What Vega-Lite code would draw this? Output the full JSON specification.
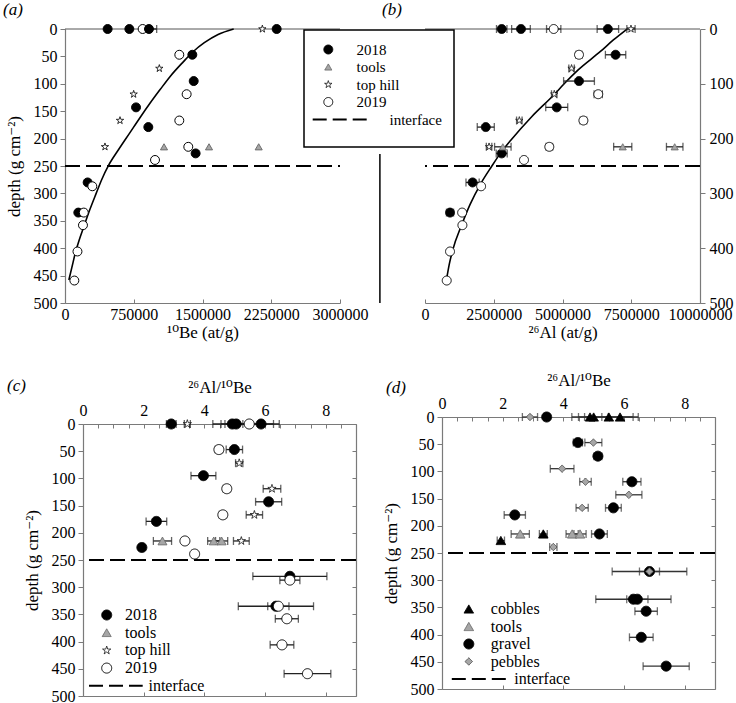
{
  "$schema": "https://vega.github.io/schema/vega-lite/v6.json",
  "background": "white",
  "padding": {"left": 3, "top": 1, "right": 3, "bottom": 0},
  "config": {
    "font": "Liberation Serif, DejaVu Serif",
    "view": {"stroke": null},
    "axis": {"labelFont": "Liberation Serif, DejaVu Serif", "titleFont": "Liberation Serif, DejaVu Serif", "labelFontSize": 16, "titleFontSize": 17, "titleFontWeight": "normal", "labelColor": "black", "titleColor": "black", "domainColor": "#7a7a7a", "tickColor": "#7a7a7a", "grid": false, "tickSize": 5, "labelPadding": 3, "domainWidth": 1.2},
    "legend": {"labelFont": "Liberation Serif, DejaVu Serif, DejaVu Sans", "titleFont": "Liberation Serif, DejaVu Serif", "labelColor": "black", "strokeWidth": 1.5},
    "title": {"font": "Liberation Serif, DejaVu Serif", "fontSize": 17, "fontWeight": "normal", "fontStyle": "italic", "color": "black", "anchor": "start", "frame": "group"}
  },
  "datasets": {
    "curveA": [
      {"depth": 0, "v": 1840000}, {"depth": 10, "v": 1670000}, {"depth": 25, "v": 1520000}, {"depth": 41, "v": 1400000}, {"depth": 60, "v": 1290000}, {"depth": 87, "v": 1145000}, {"depth": 110, "v": 1040000}, {"depth": 136, "v": 925000}, {"depth": 160, "v": 825000}, {"depth": 190, "v": 705000}, {"depth": 220, "v": 585000}, {"depth": 249, "v": 475000}, {"depth": 275, "v": 400000}, {"depth": 300, "v": 340000}, {"depth": 330, "v": 270000}, {"depth": 361, "v": 205000}, {"depth": 385, "v": 155000}, {"depth": 409, "v": 112000}, {"depth": 435, "v": 75000}, {"depth": 458, "v": 42000}
    ],
    "curveB": [
      {"depth": 0, "v": 7350000}, {"depth": 20, "v": 6850000}, {"depth": 41, "v": 6380000}, {"depth": 75, "v": 5560000}, {"depth": 100, "v": 5060000}, {"depth": 120, "v": 4690000}, {"depth": 160, "v": 3880000}, {"depth": 203, "v": 3120000}, {"depth": 227, "v": 2740000}, {"depth": 251, "v": 2420000}, {"depth": 282, "v": 2030000}, {"depth": 320, "v": 1640000}, {"depth": 358, "v": 1330000}, {"depth": 403, "v": 1010000}, {"depth": 430, "v": 880000}, {"depth": 458, "v": 780000}
    ],
    "a": [
      {"series": "2018", "depth": 0, "v": 465000, "err": 0},
      {"series": "2018", "depth": 0, "v": 702000, "err": 0},
      {"series": "2018", "depth": 0, "v": 2309000, "err": 0},
      {"series": "2018", "depth": 47, "v": 1389000, "err": 0},
      {"series": "2018", "depth": 95, "v": 1404000, "err": 0},
      {"series": "2018", "depth": 143, "v": 775000, "err": 0},
      {"series": "2018", "depth": 179, "v": 909000, "err": 0},
      {"series": "2018", "depth": 227, "v": 1425000, "err": 0},
      {"series": "2018", "depth": 280, "v": 247000, "err": 0},
      {"series": "2018", "depth": 335, "v": 145000, "err": 0},
      {"series": "tools", "depth": 215, "v": 1080000, "err": 0},
      {"series": "tools", "depth": 215, "v": 1571000, "err": 0},
      {"series": "tools", "depth": 215, "v": 2113000, "err": 0},
      {"series": "top hill", "depth": 0, "v": 2153000, "err": 0},
      {"series": "top hill", "depth": 72, "v": 1029000, "err": 0},
      {"series": "top hill", "depth": 119, "v": 749000, "err": 0},
      {"series": "top hill", "depth": 167, "v": 600000, "err": 0},
      {"series": "top hill", "depth": 215, "v": 436000, "err": 0},
      {"series": "2019", "depth": 0, "v": 847000, "err": 0},
      {"series": "2019", "depth": 47, "v": 1247000, "err": 0},
      {"series": "2019", "depth": 119, "v": 1327000, "err": 0},
      {"series": "2019", "depth": 167, "v": 1247000, "err": 0},
      {"series": "2019", "depth": 215, "v": 1345000, "err": 0},
      {"series": "2019", "depth": 239, "v": 982000, "err": 0},
      {"series": "2019", "depth": 287, "v": 298000, "err": 0},
      {"series": "2019", "depth": 335, "v": 205000, "err": 0},
      {"series": "2019", "depth": 358, "v": 196000, "err": 0},
      {"series": "2019", "depth": 406, "v": 136000, "err": 0},
      {"series": "2019", "depth": 459, "v": 102000, "err": 0},
      {"series": "2018", "depth": 0, "v": 916000, "err": 84000}
    ],
    "b": [
      {"series": "2018", "depth": 0, "v": 2790000, "err": 190000},
      {"series": "2018", "depth": 0, "v": 3490000, "err": 340000},
      {"series": "2018", "depth": 0, "v": 6650000, "err": 390000},
      {"series": "2018", "depth": 47, "v": 6930000, "err": 370000},
      {"series": "2018", "depth": 95, "v": 5600000, "err": 560000},
      {"series": "2018", "depth": 143, "v": 4790000, "err": 400000},
      {"series": "2018", "depth": 179, "v": 2210000, "err": 310000},
      {"series": "2018", "depth": 227, "v": 2790000, "err": 200000},
      {"series": "2018", "depth": 280, "v": 1730000, "err": 240000},
      {"series": "2018", "depth": 335, "v": 910000, "err": 130000},
      {"series": "tools", "depth": 215, "v": 2830000, "err": 300000},
      {"series": "tools", "depth": 215, "v": 7190000, "err": 330000},
      {"series": "tools", "depth": 215, "v": 9080000, "err": 300000},
      {"series": "top hill", "depth": 0, "v": 7490000, "err": 150000},
      {"series": "top hill", "depth": 72, "v": 5330000, "err": 100000},
      {"series": "top hill", "depth": 119, "v": 4700000, "err": 100000},
      {"series": "top hill", "depth": 167, "v": 3430000, "err": 100000},
      {"series": "top hill", "depth": 215, "v": 2330000, "err": 100000},
      {"series": "2019", "depth": 0, "v": 4680000, "err": 260000},
      {"series": "2019", "depth": 47, "v": 5600000, "err": 120000},
      {"series": "2019", "depth": 119, "v": 6300000, "err": 150000},
      {"series": "2019", "depth": 167, "v": 5760000, "err": 120000},
      {"series": "2019", "depth": 215, "v": 4520000, "err": 120000},
      {"series": "2019", "depth": 239, "v": 3600000, "err": 0},
      {"series": "2019", "depth": 287, "v": 2040000, "err": 0},
      {"series": "2019", "depth": 335, "v": 1350000, "err": 0},
      {"series": "2019", "depth": 358, "v": 1360000, "err": 0},
      {"series": "2019", "depth": 406, "v": 910000, "err": 0},
      {"series": "2019", "depth": 459, "v": 790000, "err": 0}
    ],
    "c": [
      {"series": "2018", "depth": 0, "r": 2.91, "err": 0.16},
      {"series": "2018", "depth": 0, "r": 4.92, "err": 0.64},
      {"series": "2018", "depth": 0, "r": 5.05, "err": 0.5},
      {"series": "2018", "depth": 0, "r": 5.87, "err": 0.6},
      {"series": "2018", "depth": 47, "r": 4.99, "err": 0.27},
      {"series": "2018", "depth": 95, "r": 3.97, "err": 0.41},
      {"series": "2018", "depth": 143, "r": 6.12, "err": 0.43},
      {"series": "2018", "depth": 179, "r": 2.42, "err": 0.34},
      {"series": "2018", "depth": 227, "r": 1.94, "err": 0.1},
      {"series": "2018", "depth": 280, "r": 6.82, "err": 1.22},
      {"series": "2018", "depth": 335, "r": 6.36, "err": 1.24},
      {"series": "tools", "depth": 215, "r": 2.62, "err": 0.3},
      {"series": "tools", "depth": 215, "r": 4.31, "err": 0.2},
      {"series": "tools", "depth": 215, "r": 4.57, "err": 0.2},
      {"series": "top hill", "depth": 0, "r": 3.44, "err": 0.1},
      {"series": "top hill", "depth": 72, "r": 5.15, "err": 0.12},
      {"series": "top hill", "depth": 119, "r": 6.23, "err": 0.29},
      {"series": "top hill", "depth": 167, "r": 5.65, "err": 0.27},
      {"series": "top hill", "depth": 215, "r": 5.22, "err": 0.26},
      {"series": "2019", "depth": 0, "r": 5.48, "err": 0.8},
      {"series": "2019", "depth": 47, "r": 4.48, "err": 0.12},
      {"series": "2019", "depth": 119, "r": 4.74, "err": 0.12},
      {"series": "2019", "depth": 167, "r": 4.61, "err": 0.12},
      {"series": "2019", "depth": 215, "r": 3.36, "err": 0.1},
      {"series": "2019", "depth": 239, "r": 3.68, "err": 0.1},
      {"series": "2019", "depth": 287, "r": 6.82, "err": 0.33},
      {"series": "2019", "depth": 335, "r": 6.44, "err": 0.35},
      {"series": "2019", "depth": 358, "r": 6.72, "err": 0.38},
      {"series": "2019", "depth": 406, "r": 6.56, "err": 0.39},
      {"series": "2019", "depth": 459, "r": 7.4, "err": 0.77}
    ],
    "d": [
      {"series": "cobbles", "depth": 0, "r": 4.88, "err": 0.6},
      {"series": "cobbles", "depth": 0, "r": 5.0, "err": 0.5},
      {"series": "cobbles", "depth": 0, "r": 5.5, "err": 0.8},
      {"series": "cobbles", "depth": 0, "r": 5.87, "err": 0.6},
      {"series": "cobbles", "depth": 215, "r": 3.34, "err": 0.13},
      {"series": "cobbles", "depth": 227, "r": 1.94, "err": 0.12},
      {"series": "tools", "depth": 215, "r": 2.58, "err": 0.3},
      {"series": "tools", "depth": 215, "r": 4.29, "err": 0.2},
      {"series": "tools", "depth": 215, "r": 4.55, "err": 0.2},
      {"series": "gravel", "depth": 0, "r": 3.45, "err": 0.1},
      {"series": "gravel", "depth": 47, "r": 4.48, "err": 0.15},
      {"series": "gravel", "depth": 72, "r": 5.14, "err": 0.13},
      {"series": "gravel", "depth": 119, "r": 6.26, "err": 0.3},
      {"series": "gravel", "depth": 167, "r": 5.65, "err": 0.26},
      {"series": "gravel", "depth": 180, "r": 2.4, "err": 0.35},
      {"series": "gravel", "depth": 215, "r": 5.19, "err": 0.26},
      {"series": "gravel", "depth": 284, "r": 6.84, "err": 1.23},
      {"series": "gravel", "depth": 335, "r": 6.31, "err": 1.24},
      {"series": "gravel", "depth": 335, "r": 6.44, "err": 0.35},
      {"series": "gravel", "depth": 357, "r": 6.73, "err": 0.37},
      {"series": "gravel", "depth": 405, "r": 6.57, "err": 0.39},
      {"series": "gravel", "depth": 458, "r": 7.39, "err": 0.76},
      {"series": "pebbles", "depth": 0, "r": 2.9, "err": 0.25},
      {"series": "pebbles", "depth": 47, "r": 4.99, "err": 0.28},
      {"series": "pebbles", "depth": 95, "r": 3.96, "err": 0.39},
      {"series": "pebbles", "depth": 119, "r": 4.73, "err": 0.19},
      {"series": "pebbles", "depth": 143, "r": 6.16, "err": 0.43},
      {"series": "pebbles", "depth": 167, "r": 4.62, "err": 0.2},
      {"series": "pebbles", "depth": 239, "r": 3.67, "err": 0.12},
      {"series": "pebbles", "depth": 284, "r": 6.84, "err": 0.33}
    ]
  },
  "spacing": 31,
  "align": "none",
  "resolve": {
    "scale": {"shape": "independent", "fill": "independent", "stroke": "independent", "size": "independent", "strokeWidth": "independent", "strokeDash": "independent"},
    "legend": {"shape": "independent", "fill": "independent", "stroke": "independent", "size": "independent", "strokeWidth": "independent", "strokeDash": "independent"}
  },
  "vconcat": [
    {
      "bounds": "flush",
      "spacing": 85,
      "resolve": {
        "scale": {"shape": "independent", "fill": "independent", "stroke": "independent", "size": "independent", "strokeWidth": "independent", "strokeDash": "independent"},
        "legend": {"shape": "independent", "fill": "independent", "stroke": "independent", "size": "independent", "strokeWidth": "independent", "strokeDash": "independent"}
      },
      "hconcat": [
        {
          "width": 257,
          "height": 274,
          "title": {"text": "(a)", "dx": -80, "offset": 2},
          "resolve": {"axis": {"x": "independent", "y": "independent"}},
          "layer": [
            {
              "data": {"values": [{}]},
              "mark": {"type": "rule", "color": "#555555", "strokeWidth": 1},
              "encoding": {
                "x": {"datum": 0, "type": "quantitative", "scale": {"domain": [0, 3000000], "range": [-18, 257], "nice": false, "zero": false}, "axis": null},
                "x2": {"datum": 3000000},
                "y": {"datum": 0, "type": "quantitative", "scale": {"domain": [0, 500], "reverse": true, "nice": false}, "axis": null}
              }
            },
            {
              "data": {"name": "curveA"},
              "mark": {"type": "line", "color": "black", "strokeWidth": 1.6, "interpolate": "monotone"},
              "encoding": {
                "x": {"field": "v", "type": "quantitative", "scale": {"domain": [0, 3000000], "range": [-18, 257], "nice": false, "zero": false}, "axis": null},
                "y": {"field": "depth", "type": "quantitative", "scale": {"domain": [0, 500], "reverse": true, "nice": false}, "axis": null},
                "order": {"field": "v", "type": "quantitative"}
              }
            },
            {
              "data": {"values": [{}]},
              "mark": {"type": "rule", "color": "black", "strokeWidth": 2, "strokeDash": [15, 6]},
              "encoding": {
                "x": {"datum": 0, "type": "quantitative", "scale": {"domain": [0, 3000000], "range": [-18, 257], "nice": false, "zero": false}, "axis": null},
                "x2": {"datum": 3000000},
                "y": {"datum": 250, "type": "quantitative", "scale": {"domain": [0, 500], "reverse": true, "nice": false}, "axis": null}
              }
            },
            {
              "data": {"name": "a"},
              "transform": [{"filter": "datum.err > 0"}],
              "mark": {"type": "errorbar", "ticks": {"size": 8, "thickness": 1.3, "color": "#222222"}, "rule": {"strokeWidth": 1.3, "color": "#222222"}},
              "encoding": {
                "x": {"field": "v", "type": "quantitative", "scale": {"domain": [0, 3000000], "range": [-18, 257], "nice": false, "zero": false}, "axis": null},
                "xError": {"field": "err"},
                "y": {"field": "depth", "type": "quantitative", "scale": {"domain": [0, 500], "reverse": true, "nice": false}, "axis": null}
              }
            },
            {
              "data": {"name": "a"},
              "mark": {"type": "point", "filled": true, "opacity": 1},
              "encoding": {
                "x": {"field": "v", "type": "quantitative", "scale": {"domain": [0, 3000000], "range": [-18, 257], "nice": false, "zero": false},
                  "axis": {"title": "¹⁰Be (at/g)", "values": [0, 750000, 1500000, 2250000, 3000000], "format": "d", "labelFlush": false, "labelOverlap": false, "tickSize": -4, "labelPadding": 7, "titlePadding": 2}},
                "y": {"field": "depth", "type": "quantitative", "scale": {"domain": [0, 500], "reverse": true, "nice": false},
                  "axis": {"title": "depth (g cm⁻²)", "offset": 18, "values": [0, 50, 100, 150, 200, 250, 300, 350, 400, 450, 500], "titlePadding": 10}},
                "shape": {"field": "series", "type": "nominal", "scale": {"domain": ["2018", "tools", "top hill", "2019"], "range": ["circle", "triangle-up", "M0,-1L0.2245,-0.309L0.9511,-0.309L0.3633,0.118L0.5878,0.809L0,0.382L-0.5878,0.809L-0.3633,0.118L-0.9511,-0.309L-0.2245,-0.309Z", "circle"]}, "legend": null},
                "fill": {"field": "series", "type": "nominal", "scale": {"domain": ["2018", "tools", "top hill", "2019"], "range": ["black", "#a6a6a6", "white", "white"]}, "legend": null},
                "stroke": {"field": "series", "type": "nominal", "scale": {"domain": ["2018", "tools", "top hill", "2019"], "range": ["black", "#6e6e6e", "black", "black"]}, "legend": null},
                "size": {"field": "series", "type": "nominal", "scale": {"type": "ordinal", "domain": ["2018", "tools", "top hill", "2019"], "range": [80, 50, 60, 80]}, "legend": null},
                "strokeWidth": {"field": "series", "type": "nominal", "scale": {"type": "ordinal", "domain": ["2018", "tools", "top hill", "2019"], "range": [1, 1, 0.8, 1]}, "legend": null}
              }
            }
          ]
        },
        {
          "width": 275,
          "height": 274,
          "title": {"text": "(b)", "dx": -43, "offset": 2},
          "resolve": {"axis": {"x": "independent", "y": "independent"}},
          "layer": [
            {
              "data": {"values": [{}]},
              "mark": {"type": "rule", "color": "#555555", "strokeWidth": 1},
              "encoding": {"y": {"datum": 0, "type": "quantitative", "scale": {"domain": [0, 500], "reverse": true, "nice": false}, "axis": null}}
            },
            {
              "data": {"values": [{}]},
              "mark": {"type": "rule", "color": "black", "strokeWidth": 1.5},
              "encoding": {
                "x": {"datum": -1640000, "type": "quantitative", "scale": {"domain": [0, 10000000], "nice": false, "zero": false}, "axis": null},
                "y": {"datum": 228, "type": "quantitative", "scale": {"domain": [0, 500], "reverse": true, "nice": false}, "axis": null},
                "y2": {"datum": 500}
              }
            },
            {
              "data": {"name": "curveB"},
              "mark": {"type": "line", "color": "black", "strokeWidth": 1.6, "interpolate": "monotone"},
              "encoding": {
                "x": {"field": "v", "type": "quantitative", "scale": {"domain": [0, 10000000], "nice": false, "zero": false}, "axis": null},
                "y": {"field": "depth", "type": "quantitative", "scale": {"domain": [0, 500], "reverse": true, "nice": false}, "axis": null},
                "order": {"field": "v", "type": "quantitative"}
              }
            },
            {
              "data": {"values": [{}]},
              "mark": {"type": "rule", "color": "black", "strokeWidth": 2, "strokeDash": [15, 6]},
              "encoding": {"y": {"datum": 250, "type": "quantitative", "scale": {"domain": [0, 500], "reverse": true, "nice": false}, "axis": null}}
            },
            {
              "data": {"name": "b"},
              "transform": [{"filter": "datum.err > 0"}],
              "mark": {"type": "errorbar", "ticks": {"size": 8, "thickness": 1.3, "color": "#222222"}, "rule": {"strokeWidth": 1.3, "color": "#222222"}},
              "encoding": {
                "x": {"field": "v", "type": "quantitative", "scale": {"domain": [0, 10000000], "nice": false, "zero": false}, "axis": null},
                "xError": {"field": "err"},
                "y": {"field": "depth", "type": "quantitative", "scale": {"domain": [0, 500], "reverse": true, "nice": false}, "axis": null}
              }
            },
            {
              "data": {"name": "b"},
              "mark": {"type": "point", "filled": true, "opacity": 1},
              "encoding": {
                "x": {"field": "v", "type": "quantitative", "scale": {"domain": [0, 10000000], "nice": false, "zero": false},
                  "axis": {"title": "²⁶Al (at/g)", "values": [0, 2500000, 5000000, 7500000, 10000000], "format": "d", "labelFlush": false, "labelOverlap": false, "tickSize": -4, "labelPadding": 7, "titlePadding": 2}},
                "y": {"field": "depth", "type": "quantitative", "scale": {"domain": [0, 500], "reverse": true, "nice": false},
                  "axis": {"orient": "right", "title": null, "values": [0, 100, 200, 300, 400, 500], "labelPadding": 4}},
                "shape": {"field": "series", "type": "nominal", "scale": {"domain": ["2018", "tools", "top hill", "2019", "\u2800\u2800\u2800interface"], "range": ["circle", "triangle-up", "M0,-1L0.2245,-0.309L0.9511,-0.309L0.3633,0.118L0.5878,0.809L0,0.382L-0.5878,0.809L-0.3633,0.118L-0.9511,-0.309L-0.2245,-0.309Z", "circle", "M-3.49,0H8.72"]},
                  "legend": {"orient": "none", "legendX": -121, "legendY": 1, "title": "\u00a0", "titleOrient": "bottom", "titleFontSize": 6, "titlePadding": 1, "padding": 12, "strokeColor": "black", "fillColor": "white", "labelFontSize": 15, "symbolOffset": 4.8, "labelOffset": 20.7, "rowPadding": 1.5}},
                "fill": {"field": "series", "type": "nominal", "scale": {"domain": ["2018", "tools", "top hill", "2019", "\u2800\u2800\u2800interface"], "range": ["black", "#a6a6a6", "white", "white", "white"]},
                  "legend": {"orient": "none", "legendX": -121, "legendY": 1, "title": "\u00a0", "titleOrient": "bottom", "titleFontSize": 6, "titlePadding": 1, "padding": 12, "strokeColor": "black", "fillColor": "white", "labelFontSize": 15, "symbolOffset": 4.8, "labelOffset": 20.7, "rowPadding": 1.5}},
                "stroke": {"field": "series", "type": "nominal", "scale": {"domain": ["2018", "tools", "top hill", "2019", "\u2800\u2800\u2800interface"], "range": ["black", "#6e6e6e", "black", "black", "black"]},
                  "legend": {"orient": "none", "legendX": -121, "legendY": 1, "title": "\u00a0", "titleOrient": "bottom", "titleFontSize": 6, "titlePadding": 1, "padding": 12, "strokeColor": "black", "fillColor": "white", "labelFontSize": 15, "symbolOffset": 4.8, "labelOffset": 20.7, "rowPadding": 1.5}},
                "size": {"field": "series", "type": "nominal", "scale": {"type": "ordinal", "domain": ["2018", "tools", "top hill", "2019", "\u2800\u2800\u2800interface"], "range": [80, 50, 60, 80, 80]},
                  "legend": {"orient": "none", "legendX": -121, "legendY": 1, "title": "\u00a0", "titleOrient": "bottom", "titleFontSize": 6, "titlePadding": 1, "padding": 12, "strokeColor": "black", "fillColor": "white", "labelFontSize": 15, "symbolOffset": 4.8, "labelOffset": 20.7, "rowPadding": 1.5}},
                "strokeWidth": {"field": "series", "type": "nominal", "scale": {"type": "ordinal", "domain": ["2018", "tools", "top hill", "2019", "\u2800\u2800\u2800interface"], "range": [1, 1, 0.8, 1, 2]},
                  "legend": {"orient": "none", "legendX": -121, "legendY": 1, "title": "\u00a0", "titleOrient": "bottom", "titleFontSize": 6, "titlePadding": 1, "padding": 12, "strokeColor": "black", "fillColor": "white", "labelFontSize": 15, "symbolOffset": 4.8, "labelOffset": 20.7, "rowPadding": 1.5}},
                "strokeDash": {"field": "series", "type": "nominal", "scale": {"domain": ["2018", "tools", "top hill", "2019", "\u2800\u2800\u2800interface"], "range": [[1, 0], [1, 0], [1, 0], [1, 0], [14, 6]]},
                  "legend": {"orient": "none", "legendX": -121, "legendY": 1, "title": "\u00a0", "titleOrient": "bottom", "titleFontSize": 6, "titlePadding": 1, "padding": 12, "strokeColor": "black", "fillColor": "white", "labelFontSize": 15, "symbolOffset": 4.8, "labelOffset": 20.7, "rowPadding": 1.5}}
              }
            }
          ]
        }
      ]
    },
    {
      "bounds": "flush",
      "spacing": 86,
      "resolve": {
        "scale": {"shape": "independent", "fill": "independent", "stroke": "independent", "size": "independent", "strokeWidth": "independent", "strokeDash": "independent"},
        "legend": {"shape": "independent", "fill": "independent", "stroke": "independent", "size": "independent", "strokeWidth": "independent", "strokeDash": "independent"}
      },
      "hconcat": [
        {
          "width": 273,
          "height": 272,
          "title": {"text": "(c)", "dx": -76, "dy": 17, "offset": 0},
          "resolve": {"axis": {"x": "independent", "y": "independent"}},
          "layer": [
            {
              "data": {"values": [{}]},
              "mark": {"type": "rule", "color": "black", "strokeWidth": 2, "strokeDash": [15, 6]},
              "encoding": {"y": {"datum": 250, "type": "quantitative", "scale": {"domain": [0, 500], "reverse": true, "nice": false}, "axis": null}}
            },
            {
              "data": {"name": "c"},
              "transform": [{"filter": "datum.err > 0"}],
              "mark": {"type": "errorbar", "ticks": {"size": 8, "thickness": 1.3, "color": "#222222"}, "rule": {"strokeWidth": 1.3, "color": "#222222"}},
              "encoding": {
                "x": {"field": "r", "type": "quantitative", "scale": {"domain": [0, 9], "nice": false, "zero": false}, "axis": null},
                "xError": {"field": "err"},
                "y": {"field": "depth", "type": "quantitative", "scale": {"domain": [0, 500], "reverse": true, "nice": false}, "axis": null}
              }
            },
            {
              "data": {"name": "c"},
              "mark": {"type": "point", "filled": true, "opacity": 1},
              "encoding": {
                "x": {"field": "r", "type": "quantitative", "scale": {"domain": [0, 9], "nice": false, "zero": false},
                  "axis": {"orient": "top", "title": "²⁶Al/¹⁰Be", "values": [0, 0.5, 1, 1.5, 2, 2.5, 3, 3.5, 4, 4.5, 5, 5.5, 6, 6.5, 7, 7.5, 8, 8.5, 9], "labelExpr": "datum.value % 2 == 0 ? '' + datum.value : ''", "labelFlush": false, "labelOverlap": false, "tickSize": -4, "labelPadding": 10, "titlePadding": 6}},
                "y": {"field": "depth", "type": "quantitative", "scale": {"domain": [0, 500], "reverse": true, "nice": false},
                  "axis": {"orient": "left", "title": "depth (g cm⁻²)", "values": [0, 50, 100, 150, 200, 250, 300, 350, 400, 450, 500], "titlePadding": 10}},
                "shape": {"field": "series", "type": "nominal", "scale": {"domain": ["2018", "tools", "top hill", "2019", "\u2800\u2800interface"], "range": ["circle", "triangle-up", "M0,-1L0.2245,-0.309L0.9511,-0.309L0.3633,0.118L0.5878,0.809L0,0.382L-0.5878,0.809L-0.3633,0.118L-0.9511,-0.309L-0.2245,-0.309Z", "circle", "M-3.54,0H7.2"]},
                  "legend": {"orient": "none", "legendX": 15.7, "legendY": 183, "title": null, "padding": 0, "labelFontSize": 16, "symbolOffset": 0, "labelOffset": 10.3, "rowPadding": 1.7}},
                "fill": {"field": "series", "type": "nominal", "scale": {"domain": ["2018", "tools", "top hill", "2019", "\u2800\u2800interface"], "range": ["black", "#a6a6a6", "white", "white", "white"]},
                  "legend": {"orient": "none", "legendX": 15.7, "legendY": 183, "title": null, "padding": 0, "labelFontSize": 16, "symbolOffset": 0, "labelOffset": 10.3, "rowPadding": 1.7}},
                "stroke": {"field": "series", "type": "nominal", "scale": {"domain": ["2018", "tools", "top hill", "2019", "\u2800\u2800interface"], "range": ["black", "#6e6e6e", "black", "black", "black"]},
                  "legend": {"orient": "none", "legendX": 15.7, "legendY": 183, "title": null, "padding": 0, "labelFontSize": 16, "symbolOffset": 0, "labelOffset": 10.3, "rowPadding": 1.7}},
                "size": {"field": "series", "type": "nominal", "scale": {"type": "ordinal", "domain": ["2018", "tools", "top hill", "2019", "\u2800\u2800interface"], "range": [100, 80, 75, 100, 100]},
                  "legend": {"orient": "none", "legendX": 15.7, "legendY": 183, "title": null, "padding": 0, "labelFontSize": 16, "symbolOffset": 0, "labelOffset": 10.3, "rowPadding": 1.7}},
                "strokeWidth": {"field": "series", "type": "nominal", "scale": {"type": "ordinal", "domain": ["2018", "tools", "top hill", "2019", "\u2800\u2800interface"], "range": [1, 1, 0.8, 1, 2]},
                  "legend": {"orient": "none", "legendX": 15.7, "legendY": 183, "title": null, "padding": 0, "labelFontSize": 16, "symbolOffset": 0, "labelOffset": 10.3, "rowPadding": 1.7}},
                "strokeDash": {"field": "series", "type": "nominal", "scale": {"domain": ["2018", "tools", "top hill", "2019", "\u2800\u2800interface"], "range": [[1, 0], [1, 0], [1, 0], [1, 0], [14, 6]]},
                  "legend": {"orient": "none", "legendX": 15.7, "legendY": 183, "title": null, "padding": 0, "labelFontSize": 16, "symbolOffset": 0, "labelOffset": 10.3, "rowPadding": 1.7}}
              }
            },
            {
              "data": {"name": "c"},
              "mark": {"type": "point", "opacity": 0},
              "encoding": {
                "x": {"field": "r", "type": "quantitative", "scale": {"domain": [0, 9], "nice": false, "zero": false},
                  "axis": {"orient": "bottom", "title": null, "labels": false, "values": [0, 2, 4, 6, 8], "tickSize": -4}},
                "y": {"field": "depth", "type": "quantitative", "scale": {"domain": [0, 500], "reverse": true, "nice": false},
                  "axis": {"orient": "right", "title": null, "labels": false, "values": [0, 50, 100, 150, 200, 250, 300, 350, 400, 450, 500], "tickSize": -4}}
              }
            }
          ]
        },
        {
          "width": 273,
          "height": 265,
          "title": {"text": "(d)", "dx": -56, "dy": 26, "offset": 0},
          "resolve": {"axis": {"x": "independent", "y": "independent"}},
          "layer": [
            {
              "data": {"values": [{}]},
              "mark": {"type": "rule", "color": "black", "strokeWidth": 2, "strokeDash": [15, 6]},
              "encoding": {"y": {"datum": 250, "type": "quantitative", "scale": {"domain": [0, 500], "range": [-7, 265], "nice": false}, "axis": null}}
            },
            {
              "data": {"name": "d"},
              "transform": [{"filter": "datum.err > 0"}],
              "mark": {"type": "errorbar", "ticks": {"size": 8, "thickness": 1.3, "color": "#333333"}, "rule": {"strokeWidth": 1.3, "color": "#333333"}},
              "encoding": {
                "x": {"field": "r", "type": "quantitative", "scale": {"domain": [0, 9], "nice": false, "zero": false}, "axis": null},
                "xError": {"field": "err"},
                "y": {"field": "depth", "type": "quantitative", "scale": {"domain": [0, 500], "range": [-7, 265], "nice": false}, "axis": null}
              }
            },
            {
              "data": {"name": "d"},
              "mark": {"type": "point", "filled": true, "opacity": 1},
              "encoding": {
                "x": {"field": "r", "type": "quantitative", "scale": {"domain": [0, 9], "nice": false, "zero": false},
                  "axis": {"orient": "top", "offset": 7, "title": "²⁶Al/¹⁰Be", "values": [0, 0.5, 1, 1.5, 2, 2.5, 3, 3.5, 4, 4.5, 5, 5.5, 6, 6.5, 7, 7.5, 8, 8.5, 9], "labelExpr": "datum.value % 2 == 0 ? '' + datum.value : ''", "labelFlush": false, "labelOverlap": false, "tickSize": -4, "labelPadding": 10, "titlePadding": 6}},
                "y": {"field": "depth", "type": "quantitative", "scale": {"domain": [0, 500], "range": [-7, 265], "nice": false},
                  "axis": {"orient": "left", "title": "depth (g cm⁻²)", "values": [0, 50, 100, 150, 200, 250, 300, 350, 400, 450, 500], "titlePadding": 10}},
                "shape": {"field": "series", "type": "nominal", "scale": {"domain": ["cobbles", "tools", "gravel", "pebbles", "\u2800\u2800interface"], "range": ["triangle-up", "triangle-up", "circle", "diamond", "M-3.4,0H7.54"]},
                  "legend": {"orient": "none", "legendX": 18.8, "legendY": 177, "title": null, "padding": 0, "labelFontSize": 16, "symbolOffset": 0, "labelOffset": 14, "rowPadding": 1.5}},
                "fill": {"field": "series", "type": "nominal", "scale": {"domain": ["cobbles", "tools", "gravel", "pebbles", "\u2800\u2800interface"], "range": ["black", "#a6a6a6", "black", "#a6a6a6", "white"]},
                  "legend": {"orient": "none", "legendX": 18.8, "legendY": 177, "title": null, "padding": 0, "labelFontSize": 16, "symbolOffset": 0, "labelOffset": 14, "rowPadding": 1.5}},
                "stroke": {"field": "series", "type": "nominal", "scale": {"domain": ["cobbles", "tools", "gravel", "pebbles", "\u2800\u2800interface"], "range": ["black", "#6e6e6e", "black", "#555555", "black"]},
                  "legend": {"orient": "none", "legendX": 18.8, "legendY": 177, "title": null, "padding": 0, "labelFontSize": 16, "symbolOffset": 0, "labelOffset": 14, "rowPadding": 1.5}},
                "size": {"field": "series", "type": "nominal", "scale": {"type": "ordinal", "domain": ["cobbles", "tools", "gravel", "pebbles", "\u2800\u2800interface"], "range": [90, 90, 100, 55, 100]},
                  "legend": {"orient": "none", "legendX": 18.8, "legendY": 177, "title": null, "padding": 0, "labelFontSize": 16, "symbolOffset": 0, "labelOffset": 14, "rowPadding": 1.5}},
                "strokeWidth": {"field": "series", "type": "nominal", "scale": {"type": "ordinal", "domain": ["cobbles", "tools", "gravel", "pebbles", "\u2800\u2800interface"], "range": [1, 1, 1, 1, 2]},
                  "legend": {"orient": "none", "legendX": 18.8, "legendY": 177, "title": null, "padding": 0, "labelFontSize": 16, "symbolOffset": 0, "labelOffset": 14, "rowPadding": 1.5}},
                "strokeDash": {"field": "series", "type": "nominal", "scale": {"domain": ["cobbles", "tools", "gravel", "pebbles", "\u2800\u2800interface"], "range": [[1, 0], [1, 0], [1, 0], [1, 0], [14, 6]]},
                  "legend": {"orient": "none", "legendX": 18.8, "legendY": 177, "title": null, "padding": 0, "labelFontSize": 16, "symbolOffset": 0, "labelOffset": 14, "rowPadding": 1.5}}
              }
            },
            {
              "data": {"name": "d"},
              "mark": {"type": "point", "opacity": 0},
              "encoding": {
                "x": {"field": "r", "type": "quantitative", "scale": {"domain": [0, 9], "nice": false, "zero": false},
                  "axis": {"orient": "bottom", "title": null, "labels": false, "values": [0, 2, 4, 6, 8], "tickSize": -4}},
                "y": {"field": "depth", "type": "quantitative", "scale": {"domain": [0, 500], "range": [-7, 265], "nice": false},
                  "axis": {"orient": "right", "title": null, "labels": false, "values": [0, 50, 100, 150, 200, 250, 300, 350, 400, 450, 500], "tickSize": -4}}
              }
            }
          ]
        }
      ]
    }
  ]
}
